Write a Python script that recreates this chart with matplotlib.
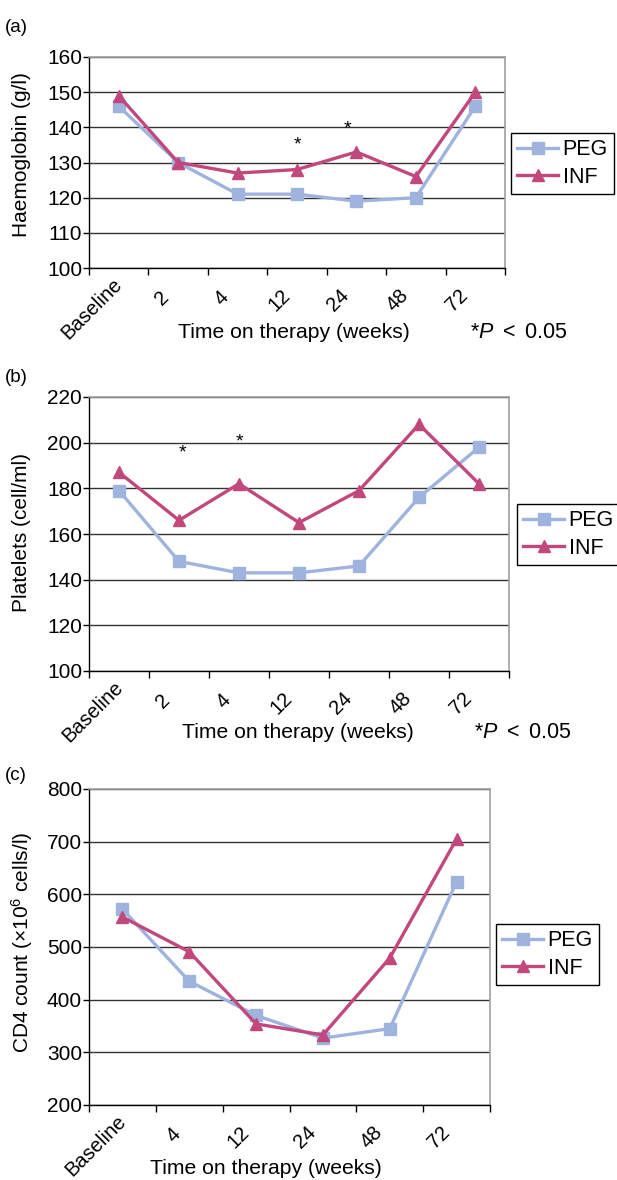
import matplotlib
matplotlib.use('Agg')
import matplotlib.pyplot as plt
from matplotlib.ticker import FixedLocator
from matplotlib.transforms import ScaledTranslation

plt.rcParams['font.family'] = ['Liberation Sans', 'DejaVu Sans']
plt.rcParams['mathtext.fontset'] = 'custom'
plt.rcParams['mathtext.rm'] = 'Liberation Sans'
plt.rcParams['mathtext.it'] = 'Liberation Sans:italic'

# Data
weeks_ab = ['Baseline', '2', '4', '12', '24', '48', '72']
weeks_c = ['Baseline', '4', '12', '24', '48', '72']

hb_peg = [146, 130, 121, 121, 119, 120, 146]
hb_inf = [149, 130, 127, 128, 133, 126, 150]
hb_star_x = [3, 3.85]
hb_star_y = [135, 139.5]

plt_peg = [179, 148, 143, 143, 146, 176, 198]
plt_inf = [187, 166, 182, 165, 179, 208, 182]
plt_star_x = [1.05, 2]
plt_star_y = [195.5, 200.5]

cd4_peg = [572, 435, 370, 327, 345, 624]
cd4_inf = [557, 491, 354, 333, 479, 705]

col_peg = '#9fb3df'
col_inf = '#c2477d'

W, H = 617, 1180
fig = plt.figure(figsize=(W/100, H/100), dpi=100)

def make_axes(x0, x1, y0, y1):
    return fig.add_axes([x0/W, 1-y1/H, (x1-x0)/W, (y1-y0)/H])

def draw_panel(ax, cats, peg, inf, ylim, yticks, leg_xy):
    x = list(range(len(cats)))
    l1, = ax.plot(x, peg, color=col_peg, lw=2.4, marker='s', ms=8, label='PEG', zorder=3)
    l2, = ax.plot(x, inf, color=col_inf, lw=2.4, marker='^', ms=8.5, label='INF', zorder=4)
    ax.set_xlim(-0.5, len(cats)-0.5)
    ax.set_ylim(*ylim)
    ax.set_yticks(yticks)
    ax.tick_params(axis='y', labelsize=15, length=4, width=1, pad=1, direction='out')
    ax.set_xticks(x)
    ax.tick_params(axis='x', which='major', length=0, pad=21.5)
    ax.xaxis.set_minor_locator(FixedLocator([i-0.5 for i in range(len(cats)+1)]))
    ax.tick_params(axis='x', which='minor', length=5, width=1, direction='out')
    ax.set_xticklabels(cats, rotation=45, ha='right', va='baseline',
                       rotation_mode='anchor', fontsize=14.5)
    # longer labels sit a little further up-right, like the original chart
    for lab in ax.get_xticklabels():
        n = len(lab.get_text())
        d = 1.8*(n-1) / 100
        lab.set_transform(lab.get_transform() +
                          ScaledTranslation(-0.08 + d, d, fig.dpi_scale_trans))
    ax.yaxis.grid(True, color='#333333', lw=1)
    ax.set_axisbelow(True)
    for s in ['left', 'bottom']:
        ax.spines[s].set_color('black')
        ax.spines[s].set_linewidth(1)
    for s in ['top', 'right']:
        ax.spines[s].set_color('#a0a0a0')
        ax.spines[s].set_linewidth(1.2)
    fig.legend(handles=[l1, l2], loc='upper left',
               bbox_to_anchor=(leg_xy[0]/W, 1-leg_xy[1]/H), fontsize=15.5,
               frameon=True, fancybox=False, edgecolor='black', framealpha=1,
               handlelength=1.9, handletextpad=0.2, borderpad=0.3, labelspacing=0.3,
               borderaxespad=0)
    return ax

# (a) Haemoglobin
ax1 = make_axes(89, 505, 57, 268)
draw_panel(ax1, weeks_ab, hb_peg, hb_inf, (100, 160), range(100, 161, 10), (511, 133))
for sx, sy in zip(hb_star_x, hb_star_y):
    ax1.text(sx, sy, '*', ha='center', va='center', fontsize=14)
fig.text(5/W, 1-28/H, '(a)', fontsize=13.5, va='center')
fig.text(22/W, 1-155/H, 'Haemoglobin (g/l)', rotation=90, fontsize=15, ha='center', va='center')
fig.text(294/W, 1-332/H, 'Time on therapy (weeks)', fontsize=15.2, ha='center', va='center')
fig.text(470/W, 1-332/H, '*$P$ $<$ 0.05', fontsize=15.5, ha='left', va='center')

# (b) Platelets
ax2 = make_axes(89, 509, 397, 671)
draw_panel(ax2, weeks_ab, plt_peg, plt_inf, (100, 220), range(100, 221, 20), (517, 504))
for sx, sy in zip(plt_star_x, plt_star_y):
    ax2.text(sx, sy, '*', ha='center', va='center', fontsize=14)
fig.text(5/W, 1-377/H, '(b)', fontsize=13.5, va='center')
fig.text(22/W, 1-533/H, 'Platelets (cell/ml)', rotation=90, fontsize=15, ha='center', va='center')
fig.text(298/W, 1-732/H, 'Time on therapy (weeks)', fontsize=15.2, ha='center', va='center')
fig.text(474/W, 1-732/H, '*$P$ $<$ 0.05', fontsize=15.5, ha='left', va='center')

# (c) CD4
ax3 = make_axes(89, 490, 789, 1105)
draw_panel(ax3, weeks_c, cd4_peg, cd4_inf, (200, 800), range(200, 801, 100), (496, 924))
fig.text(5/W, 1-775/H, '(c)', fontsize=13.5, va='center')
fig.text(22/W, 1-942/H, 'CD4 count (×10$^6$ cells/l)', rotation=90, fontsize=15, ha='center', va='center')
fig.text(266/W, 1-1168/H, 'Time on therapy (weeks)', fontsize=15.2, ha='center', va='center')

fig.savefig('out.png', dpi=100)
